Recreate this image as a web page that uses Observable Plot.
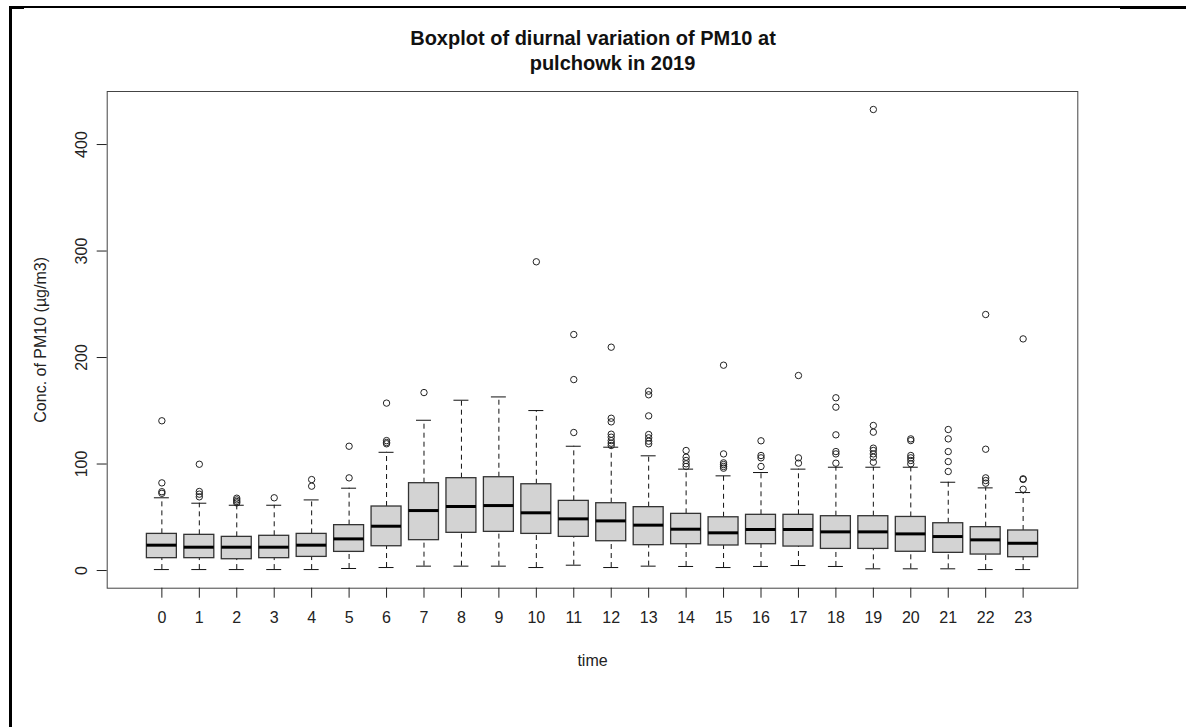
<!DOCTYPE html>
<html>
<head>
<meta charset="utf-8">
<script src="https://cdn.jsdelivr.net/npm/d3@7"></script>
<script src="https://cdn.jsdelivr.net/npm/@observablehq/plot@0.6"></script>
<style>
  body { margin: 0; background: #fff; font-family: "Liberation Sans", Arial, sans-serif; }
  #wrap { position: relative; width: 1186px; height: 727px; overflow: hidden; background: #fff; }
  #title { height: 80px; box-sizing: border-box; padding-top: 26px; text-align: center;
           font-weight: bold; font-size: 20px; line-height: 24.5px; color: #111; }
  #title .l2 { padding-left: 39px; }
  .b { position: absolute; background: #000; }
  #chart svg { display: block; }
</style>
</head>
<body>
<div id="wrap">
  <div id="title"><div>Boxplot of diurnal variation of PM10 at</div><div class="l2">pulchowk in 2019</div></div>
  <div id="chart"></div>
  <div class="b" style="left:9px;top:6px;width:3px;height:721px"></div>
  <div class="b" style="left:9px;top:6px;width:1177px;height:1.5px"></div>
  <div class="b" style="left:9px;top:6px;width:15px;height:3px"></div>
  <div class="b" style="left:1120px;top:6px;width:66px;height:3px"></div>
</div>
<script>
const hours = [0,1,2,3,4,5,6,7,8,9,10,11,12,13,14,15,16,17,18,19,20,21,22,23];
const lowerWhisker = [0.9,0.9,0.9,0.9,0.9,1.9,2.8,4.1,4.1,4.1,2.8,5.0,2.8,4.1,3.8,2.8,3.8,4.7,3.8,1.6,1.6,1.6,0.9,0.9];
const q1 = [11.6,11.6,10.6,11.6,12.8,17.5,22.8,28.5,35.4,36.3,34.4,31.6,27.5,23.8,24.7,23.5,24.7,22.5,20.3,20.3,17.6,16.6,15.0,12.5];
const median = [23.8,21.9,21.9,21.9,23.8,29.7,41.6,56.3,60.1,61.0,54.2,48.5,46.6,42.6,38.8,35.4,38.5,38.5,36.3,36.3,34.4,31.9,28.8,25.6];
const q3 = [34.4,33.5,31.6,32.6,34.4,42.6,60.1,82.0,86.7,87.6,81.0,65.4,63.2,59.5,53.2,50.0,52.3,52.3,51.0,51.0,50.3,44.4,40.7,37.6];
const upperWhisker = [68.3,63.2,61.3,61.3,66.3,77.3,111.0,141.1,159.9,163.0,150.2,116.7,115.8,107.7,95.2,88.9,92.0,95.2,97.0,97.0,97.0,82.9,77.6,73.2];
const outliers = [
  [140.6, 82.3, 74.0, 72.5],
  [99.8, 74.2, 71.7, 69.2],
  [67.9, 66.3, 64.8, 63.5],
  [68.3],
  [85.4, 79.2],
  [116.7, 87.0],
  [157.2, 122.0, 120.2, 119.0],
  [167.1],
  [],
  [],
  [289.9],
  [221.6, 179.3, 129.6],
  [209.7, 143.0, 139.6, 128.0, 125.2, 122.0, 119.6, 117.4],
  [168.4, 165.0, 145.2, 127.7, 124.6, 121.4, 119.0],
  [112.7, 106.4, 103.3, 100.2, 97.7],
  [192.8, 109.5, 101.1, 99.5, 97.7, 96.1],
  [121.8, 108.0, 105.8, 97.7],
  [183.1, 105.8, 100.8],
  [162.2, 153.4, 127.4, 111.7, 109.5, 100.8],
  [432.9, 136.2, 129.9, 114.9, 112.7, 109.5, 106.4, 101.7],
  [123.6, 122.0, 108.0, 105.8, 103.3, 100.2],
  [132.4, 123.6, 111.7, 102.3, 93.0],
  [240.4, 113.9, 87.0, 84.5, 82.0],
  [217.5, 86.1, 85.5, 76.3]
];
const yTicks = [0, 100, 200, 300, 400];
const xLabel = "time";
const yLabel = "Conc. of PM10 (µg/m3)";

const rows = hours.map((h, i) => ({h, lo: lowerWhisker[i], q1: q1[i], med: median[i], q3: q3[i], hi: upperWhisker[i]}));
const pts = hours.flatMap((h, i) => outliers[i].map(v => ({h, v})));
const halfBox = 0.4, halfCap = 0.2;

const plot = Plot.plot({
  width: 1186, height: 647,
  marginTop: 11, marginBottom: 139.3, marginLeft: 106.7, marginRight: 108.7,
  style: {fontFamily: "'Liberation Sans', Arial, sans-serif", fontSize: "16px", color: "#222", background: "#fff"},
  x: {domain: [-1.46, 24.46]},
  y: {domain: [-16.6, 449.8]},
  marks: [
    Plot.ruleX(rows, {x: "h", y1: "q3", y2: "hi", stroke: "#111", strokeDasharray: "5,4"}),
    Plot.ruleX(rows, {x: "h", y1: "lo", y2: "q1", stroke: "#111", strokeDasharray: "5,4"}),
    Plot.ruleY(rows, {y: "hi", x1: d => d.h - halfCap, x2: d => d.h + halfCap, stroke: "#111"}),
    Plot.ruleY(rows, {y: "lo", x1: d => d.h - halfCap, x2: d => d.h + halfCap, stroke: "#111"}),
    Plot.rect(rows, {x1: d => d.h - halfBox, x2: d => d.h + halfBox, y1: "q1", y2: "q3", fill: "#d3d3d3", stroke: "#333", strokeWidth: 1.3}),
    Plot.ruleY(rows, {y: "med", x1: d => d.h - halfBox, x2: d => d.h + halfBox, stroke: "#000", strokeWidth: 3}),
    Plot.dot(pts, {x: "h", y: "v", r: 3.2, stroke: "#222", fill: "none", strokeWidth: 1}),
    Plot.frame({stroke: "#444"}),
    Plot.axisX({ticks: hours, tickSize: 10, tickPadding: 13, tickFormat: d => String(d), stroke: "#222",
                label: xLabel, labelAnchor: "center", labelArrow: "none", labelOffset: 78}),
    Plot.axisY({ticks: yTicks, tickSize: 10, tickRotate: -90, tickPadding: 10, tickFormat: d => String(d), stroke: "#222",
                label: yLabel, labelAnchor: "center", labelArrow: "none", labelOffset: 73})
  ]
});
document.getElementById("chart").appendChild(plot);
</script>
</body>
</html>
